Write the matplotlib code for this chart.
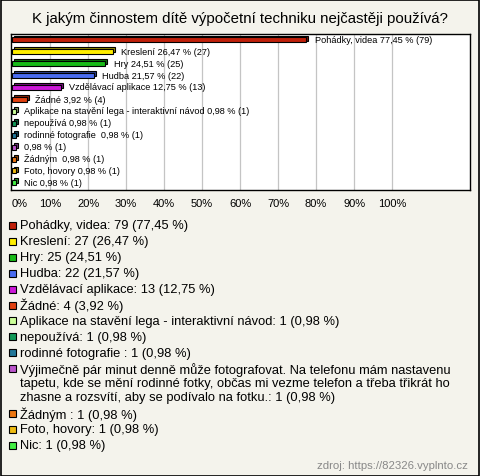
import textwrap
import matplotlib
matplotlib.use("Agg")
import matplotlib.pyplot as plt
from matplotlib.patches import Rectangle
from matplotlib.colors import to_rgb

categories = [
    "Pohádky, videa", "Kreslení", "Hry", "Hudba", "Vzdělávací aplikace", "Žádné",
    "Aplikace na stavění lega - interaktivní návod", "nepoužívá", "rodinné fotografie ",
    "Výjimečně pár minut denně může fotografovat. Na telefonu mám nastavenu tapetu, kde se mění rodinné fotky, občas mi vezme telefon a třeba třikrát ho zhasne a rozsvítí, aby se podívalo na fotku.",
    "Žádným ", "Foto, hovory", "Nic",
]
bar_names = [
    "Pohádky, videa", "Kreslení", "Hry", "Hudba", "Vzdělávací aplikace", "Žádné",
    "Aplikace na stavění lega - interaktivní návod", "nepoužívá", "rodinné fotografie ",
    "", "Žádným ", "Foto, hovory", "Nic",
]
counts = [79, 27, 25, 22, 13, 4, 1, 1, 1, 1, 1, 1, 1]
percents = [77.45, 26.47, 24.51, 21.57, 12.75, 3.92, 0.98, 0.98, 0.98, 0.98, 0.98, 0.98, 0.98]
colors = ["#c0200a", "#ffee00", "#18bb18", "#4a6cf0", "#cc18d8", "#e04010",
          "#ccff99", "#119958", "#227799", "#bb55cc", "#ee7711", "#eebb11", "#44ee44"]
xticks = [0, 10, 20, 30, 40, 50, 60, 70, 80, 90, 100]
xtick_labels = [f"{t}%" for t in xticks]
title = "K jakým činnostem dítě výpočetní techniku nejčastěji používá?"
source = "zdroj: https://82326.vyplnto.cz"

W, H = 480, 477
BG = "#f4f3ec"
plt.rcParams['font.family'] = ['Liberation Sans', 'DejaVu Sans']

fig = plt.figure(figsize=(W / 100, H / 100), dpi=100, facecolor=BG)

def fx(px):
    return px / W

def fy(py):
    return 1 - py / H

# outer frame
fig.patches.append(Rectangle((0.5 / W, 0.5 / H), 1 - 1.5 / W, 1 - 1.5 / H,
                             transform=fig.transFigure, fill=False,
                             edgecolor="black", linewidth=1.2))

fig.text(0.5, fy(19), title, ha="center", va="center", fontsize=10.8)

ax = fig.add_axes([fx(11), fy(191), fx(470) - fx(11), fy(35) - fy(191)])
ax.set_facecolor("white")
for s in ax.spines.values():
    s.set_linewidth(1.0)
    s.set_color("black")

n = len(counts)
ys = list(range(n))
ax.set_xlim(-0.28, 120.5)
ax.set_ylim(n - 0.4, -0.5)

for t in xticks[1:]:
    ax.axvline(t, color="#c4c4c4", linewidth=0.9, zorder=0)

def darker(c, f=0.6):
    r, g, b = to_rgb(c)
    return (r * f, g * f, b * f)

bh = 0.42
ax.barh([y - 0.16 for y in ys], percents, left=0.55, height=bh,
        color=[darker(c) for c in colors], edgecolor="black", linewidth=0.8, zorder=2)
ax.barh(ys, percents, height=bh, color=colors, edgecolor="black", linewidth=0.8, zorder=3)

for y, name, p, c in zip(ys, bar_names, percents, counts):
    pct = f"{p:.2f}".replace(".", ",")
    label = (f"{name} " if name else "") + f"{pct} % ({c})"
    ax.text(p + 2.2, y - 0.05, label, va="center", ha="left", fontsize=6.6, zorder=4)

ax.set_yticks([])
ax.set_xticks(xticks)
ax.set_xticklabels(xtick_labels, fontsize=8)
ax.tick_params(axis="x", length=0, pad=6)
lbls = ax.get_xticklabels()
lbls[0].set_horizontalalignment("left")

# legend
y = 226.5
item_step = 15.9
line_step = 14.4
for name, c, p, col in zip(categories, counts, percents, colors):
    pct = f"{p:.2f}".replace(".", ",")
    txt = f"{name}: {c} ({pct} %)"
    lines = textwrap.wrap(txt, width=76)
    fig.patches.append(Rectangle((fx(9), fy(y + 3.5)), 7 / W, 7 / H,
                                 transform=fig.transFigure, facecolor=col,
                                 edgecolor="black", linewidth=0.8))
    for k, ln in enumerate(lines):
        fig.text(fx(20), fy(y + k * line_step), ln, ha="left", va="center", fontsize=9.3)
    y += item_step + (len(lines) - 1) * line_step

fig.text(fx(468), fy(466), source, ha="right", va="center", fontsize=8.2, color="#888888")

fig.savefig("out.png", dpi=100, facecolor=BG)
